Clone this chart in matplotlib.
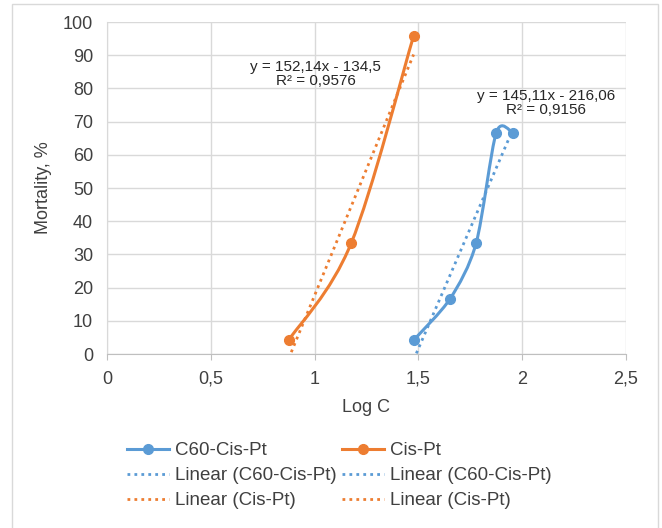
import matplotlib.pyplot as plt
from matplotlib.path import Path
from matplotlib.patches import PathPatch, Rectangle
from matplotlib.lines import Line2D

plt.rcParams['font.family'] = ['Liberation Sans', 'DejaVu Sans']

BLUE = '#5B9BD5'
ORANGE = '#ED7D31'
TEXT = '#404040'
GRID = '#D9D9D9'

# data (log of concentration vs mortality %)
c60_x = [1.477, 1.653, 1.778, 1.875, 1.954]
c60_y = [4.17, 16.67, 33.33, 66.67, 66.67]
cis_x = [0.875, 1.176, 1.477]
cis_y = [4.17, 33.33, 95.83]

c60_fit = (145.11, -216.06)
cis_fit = (152.14, -134.5)
c60_eq = 'y = 145,11x - 216,06\nR² = 0,9156'
cis_eq = 'y = 152,14x - 134,5\nR² = 0,9576'

xticks = [0, 0.5, 1, 1.5, 2, 2.5]
xticklabels = ['0', '0,5', '1', '1,5', '2', '2,5']
yticks = list(range(0, 101, 10))


def smooth_path(xs, ys, t=1 / 6):
    # Excel-style smoothed line: bezier through the points
    verts = [(xs[0], ys[0])]
    codes = [Path.MOVETO]
    n = len(xs)
    for i in range(n - 1):
        x0, y0 = (xs[i - 1], ys[i - 1]) if i > 0 else (xs[i], ys[i])
        x1, y1 = xs[i], ys[i]
        x2, y2 = xs[i + 1], ys[i + 1]
        x3, y3 = (xs[i + 2], ys[i + 2]) if i + 2 < n else (x2, y2)
        verts += [(x1 + (x2 - x0) * t, y1 + (y2 - y0) * t),
                  (x2 - (x3 - x1) * t, y2 - (y3 - y1) * t),
                  (x2, y2)]
        codes += [Path.CURVE4] * 3
    return Path(verts, codes)


fig = plt.figure(figsize=(6.62, 5.28), dpi=100)
ax = fig.add_axes([0.1616, 0.3295, 0.7840, 0.6288])

fig.patches.append(Rectangle((12 / 662, -0.05), 646 / 662, 1.05 - 4 / 528,
                             transform=fig.transFigure, fill=False,
                             edgecolor='#D9D9D9', lw=1))

ax.set_xlim(0, 2.5)
ax.set_ylim(0, 100)
ax.set_xticks(xticks)
ax.set_xticklabels(xticklabels)
ax.set_yticks(yticks)
ax.grid(True, color=GRID, lw=1)
ax.set_axisbelow(True)
for s in ['top', 'right']:
    ax.spines[s].set_visible(False)
ax.spines['left'].set_color(GRID)
ax.spines['bottom'].set_color('#BFBFBF')
ax.tick_params(axis='both', colors=TEXT, labelsize=13, length=0, pad=10)
ax.tick_params(axis='x', length=4, color='#BFBFBF', pad=8)
ax.set_xlabel('Log C', color=TEXT, fontsize=13, labelpad=8)
ax.set_ylabel('Mortality, %', color=TEXT, fontsize=13, labelpad=8)

# smoothed series
ax.add_patch(PathPatch(smooth_path(c60_x, c60_y, 0.14), fill=False, edgecolor=BLUE, lw=2.2))
ax.add_patch(PathPatch(smooth_path(cis_x, cis_y), fill=False, edgecolor=ORANGE, lw=2.2))
ax.plot(c60_x, c60_y, 'o', color=BLUE, ms=7)
ax.plot(cis_x, cis_y, 'o', color=ORANGE, ms=7)

# linear trendlines
for xs, (m, b), col in [(c60_x, c60_fit, BLUE), (cis_x, cis_fit, ORANGE)]:
    x0, x1 = xs[0], xs[-1]
    ax.plot([x0, x1], [m * x0 + b, m * x1 + b], color=col, lw=2, ls=(0, (1, 1.5)))

ax.text(1.006, 84.3, cis_eq, ha='center', va='center', fontsize=11, color='#262626',
        linespacing=1.0)
ax.text(2.115, 75.5, c60_eq, ha='center', va='center', fontsize=11, color='#262626',
        linespacing=1.0)

h_c60 = Line2D([], [], color=BLUE, lw=2.2, marker='o', ms=7)
h_cis = Line2D([], [], color=ORANGE, lw=2.2, marker='o', ms=7)
h_lc60 = Line2D([], [], color=BLUE, lw=2, ls=(0, (1, 1.5)))
h_lcis = Line2D([], [], color=ORANGE, lw=2, ls=(0, (1, 1.5)))
handles = [h_c60, h_lc60, h_lcis, h_cis, h_lc60, h_lcis]
labels = ['C60-Cis-Pt', 'Linear (C60-Cis-Pt)', 'Linear (Cis-Pt)',
          'Cis-Pt', 'Linear (C60-Cis-Pt)', 'Linear (Cis-Pt)']
leg = fig.legend(handles, labels, ncol=2, loc='upper left',
                 bbox_to_anchor=(127 / 662, 1 - 442 / 528), frameon=False,
                 fontsize=13.5, handlelength=2.25, handletextpad=0.3,
                 columnspacing=0.3, labelspacing=0.42, borderaxespad=0,
                 borderpad=0)
for t in leg.get_texts():
    t.set_color(TEXT)

fig.savefig('out.png', dpi=100)
